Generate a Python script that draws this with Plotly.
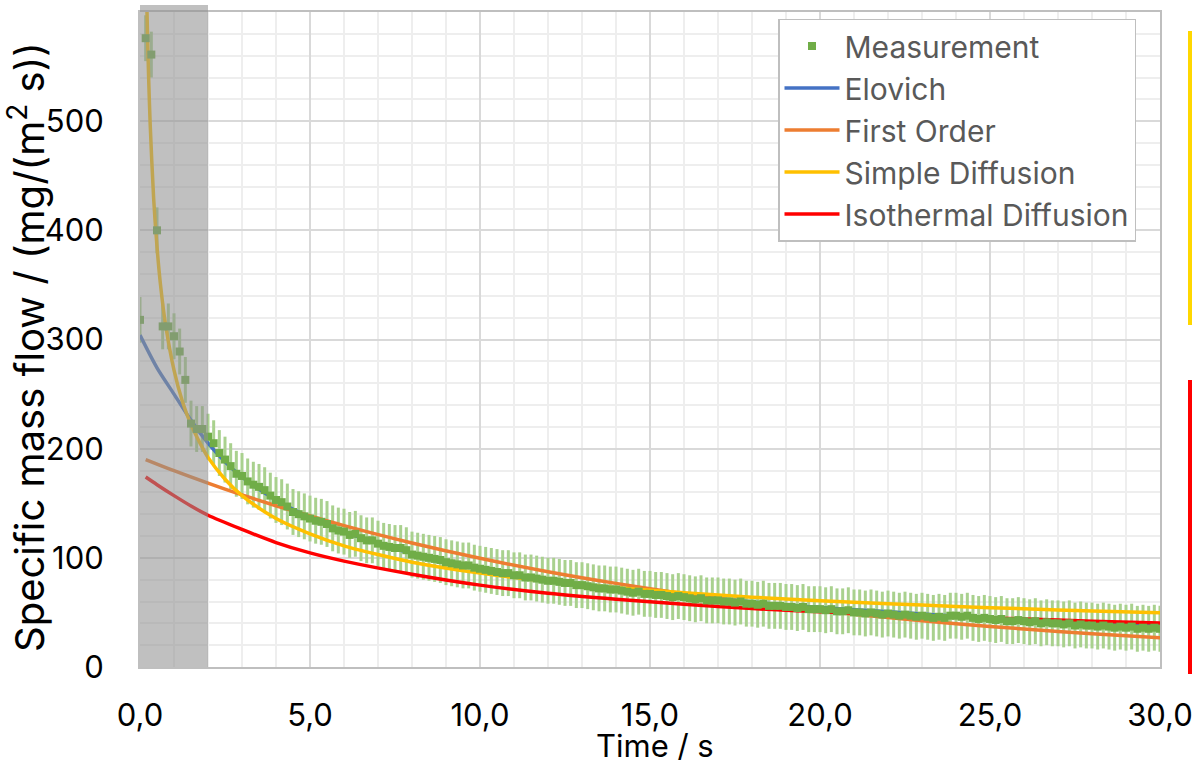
import plotly.graph_objects as go

# ---------------- data ----------------
# measurement sampled every 1/6 s from 0 to 30 s
meas_time = [round(i / 6, 4) for i in range(181)]
meas_flow = [
    318, 576, 561, 400, 312, 312, 303, 289, 263, 223, 218, 218, 211, 205, 196,
    190, 184, 177, 175, 170, 167, 165, 162, 157, 153, 151, 147, 142, 140, 138,
    136, 134, 133, 131, 127, 125, 124, 121, 122, 118, 116, 116, 113, 111, 110,
    109, 109, 107, 103, 102, 101, 100, 99, 98, 96, 95, 94, 93, 93, 91,
    90, 89, 88, 87, 86, 86, 84, 84, 82, 82, 81, 80, 79, 79, 78,
    77, 77, 75, 75, 74, 73, 72, 72, 71, 71, 70, 69, 68, 69, 67,
    67, 66, 66, 65, 64, 65, 64, 63, 62, 63, 61, 61, 61, 60, 60,
    59, 60, 58, 58, 57, 58, 56, 56, 56, 55, 55, 54, 55, 53, 53,
    53, 52, 53, 51, 51, 52, 50, 50, 49, 50, 49, 48, 49, 48, 47,
    48, 47, 46, 47, 46, 45, 46, 45, 47, 47, 46, 47, 45, 44, 45,
    44, 43, 44, 42, 42, 43, 42, 41, 42, 40, 41, 40, 40, 39, 40,
    38, 39, 38, 38, 37, 38, 37, 36, 37, 36, 37, 35, 36, 35, 36,
    35,
]
meas_err = 21

elovich_time = [0, 0.5, 1, 1.5, 2, 2.5, 3, 4, 5, 6, 7, 8, 9, 10, 12, 14, 16,
                18, 20, 22, 24, 26, 28, 30]
elovich_flow = [304, 274, 250, 226, 205, 188, 174, 153, 137, 124, 113, 104,
                96.5, 90, 80, 72, 65.5, 59.5, 54.5, 50.5, 46.5, 43.5, 40, 37.5]

first_time = [0.167, 1, 2, 3, 4, 5, 6, 8, 10, 12, 14, 16, 18, 20, 22, 24, 26,
              28, 30]
first_flow = [190, 179.8, 168.4, 157.7, 147.7, 138.3, 129.5, 113.6, 99.6, 87.3,
              76.6, 67.1, 58.9, 51.6, 45.3, 39.7, 34.8, 30.5, 26.8]

simple_time = [0.167, 0.2, 0.25, 0.3, 0.4, 0.5, 0.6, 0.75, 1.0, 1.25, 1.5,
               1.75, 2.0, 2.5, 3, 4, 5, 6, 7, 8, 10, 12, 14, 16, 18, 20, 22,
               24, 26, 28, 30]
simple_flow = [666, 608, 544, 497, 430, 385, 351, 314, 272, 243, 222, 206,
               192, 172, 157, 136, 122, 111, 103, 96, 86, 78.5, 72.7, 68, 64,
               60.8, 58, 55.5, 53.3, 51.4, 49.7]

iso_time = [0.167, 0.5, 1, 1.5, 2, 3, 4, 5, 6, 8, 10, 12, 14, 16, 18, 20, 22,
            24, 26, 28, 30]
iso_flow = [174, 167, 157, 147.5, 139, 126, 114, 104.5, 97, 85, 75, 67.5, 62,
            57.5, 53.5, 50.5, 48, 46, 44, 42, 40.2]

x_tickvals = [0, 5, 10, 15, 20, 25, 30]
x_ticktext = ["0,0", "5,0", "10,0", "15,0", "20,0", "25,0", "30,0"]
y_tickvals = [0, 100, 200, 300, 400, 500]
y_ticktext = ["0", "100", "200", "300", "400", "500"]

x_title = "Time / s"
y_title = "Specific mass flow / (mg/(m<sup>2</sup> s))"

# ---------------- layout geometry ----------------
W, H = 1192, 764
L, R, T, B = 140, 32, 12, 97
PW, PH = W - L - R, H - T - B


def px_x(x):
    return (x - L) / PW


def px_y(y):
    return (H - B - y) / PH


FONT = "Inter"
FS = 31

fig = go.Figure()

# error bars (drawn underneath everything)
fig.add_trace(go.Scatter(
    x=meas_time, y=meas_flow, mode="markers",
    marker=dict(size=1, color="rgba(0,0,0,0)"),
    error_y=dict(type="constant", value=meas_err, color="#A9D18E",
                 thickness=3, width=0),
    showlegend=False, hoverinfo="skip",
))

line_specs = [
    ("Elovich", elovich_time, elovich_flow, "#4472C4"),
    ("First Order", first_time, first_flow, "#ED7D31"),
    ("Simple Diffusion", simple_time, simple_flow, "#FFC000"),
    ("Isothermal Diffusion", iso_time, iso_flow, "#FF0000"),
]
for i, (name, tx, fy, col) in enumerate(line_specs):
    fig.add_trace(go.Scatter(
        x=tx, y=fy, mode="lines", name=name,
        line=dict(color=col, width=3.5, shape="spline", smoothing=0.8),
        legendrank=2 + i,
    ))

fig.add_trace(go.Scatter(
    x=meas_time, y=meas_flow, mode="markers", name="Measurement",
    marker=dict(symbol="square", size=8, color="#70AD47"),
    legendrank=1,
))

fig.update_layout(
    width=W, height=H,
    margin=dict(l=L, r=R, t=T, b=B),
    paper_bgcolor="white", plot_bgcolor="white",
    font=dict(family=FONT, size=FS, color="black"),
    showlegend=True,
    legend=dict(
        x=px_x(778), y=px_y(18.5), xanchor="left", yanchor="top",
        bgcolor="white", bordercolor="#BFBFBF", borderwidth=1.5,
        font=dict(family=FONT, size=30, color="#595959"),
        tracegroupgap=0, itemwidth=55,
    ),
    xaxis=dict(
        range=[0, 30], tickvals=x_tickvals, ticktext=x_ticktext,
        automargin=False, ticklabeloverflow="allow",
        showgrid=True, gridcolor="#D9D9D9", gridwidth=1.5,
        minor=dict(dtick=1, showgrid=True, gridcolor="#EEEEEE", gridwidth=1.5),
        showline=True, linecolor="#BFBFBF", linewidth=2, mirror=True,
        ticks="outside", ticklen=20, tickcolor="rgba(0,0,0,0)",
        zeroline=False,
        tickfont=dict(family=FONT, size=FS, color="black"),
    ),
    yaxis=dict(
        range=[0, 600], tickvals=y_tickvals, ticktext=y_ticktext,
        automargin=False, ticklabeloverflow="allow",
        showgrid=True, gridcolor="#D9D9D9", gridwidth=1.5,
        minor=dict(dtick=20, showgrid=True, gridcolor="#EEEEEE", gridwidth=1.5),
        showline=True, linecolor="#BFBFBF", linewidth=2, mirror=True,
        ticks="outside", ticklen=28, tickcolor="rgba(0,0,0,0)",
        zeroline=False,
        tickfont=dict(family=FONT, size=FS, color="black"),
    ),
    annotations=[
        dict(text=x_title, xref="paper", yref="paper",
             x=px_x(655), y=px_y(746), xanchor="center", yanchor="middle",
             showarrow=False, font=dict(family=FONT, size=FS, color="black")),
        dict(text=y_title, xref="paper", yref="paper", textangle=-90,
             x=px_x(27), y=px_y(347), xanchor="center", yanchor="middle",
             showarrow=False, font=dict(family=FONT, size=40, color="black")),
    ],
    shapes=[
        # grey highlighted start interval (0..2 s)
        dict(type="rect", xref="x", yref="paper", x0=0, x1=2,
             y0=0, y1=px_y(5), fillcolor="rgba(144,144,144,0.57)",
             line=dict(width=0), layer="above"),
        # coloured bars at the right edge
        dict(type="line", xref="paper", yref="paper",
             x0=px_x(1190), x1=px_x(1190), y0=px_y(31), y1=px_y(325),
             line=dict(color="#FFD700", width=4)),
        dict(type="line", xref="paper", yref="paper",
             x0=px_x(1190), x1=px_x(1190), y0=px_y(380), y1=px_y(674),
             line=dict(color="#FF0000", width=4)),
    ],
)

fig.write_html("out.html")
